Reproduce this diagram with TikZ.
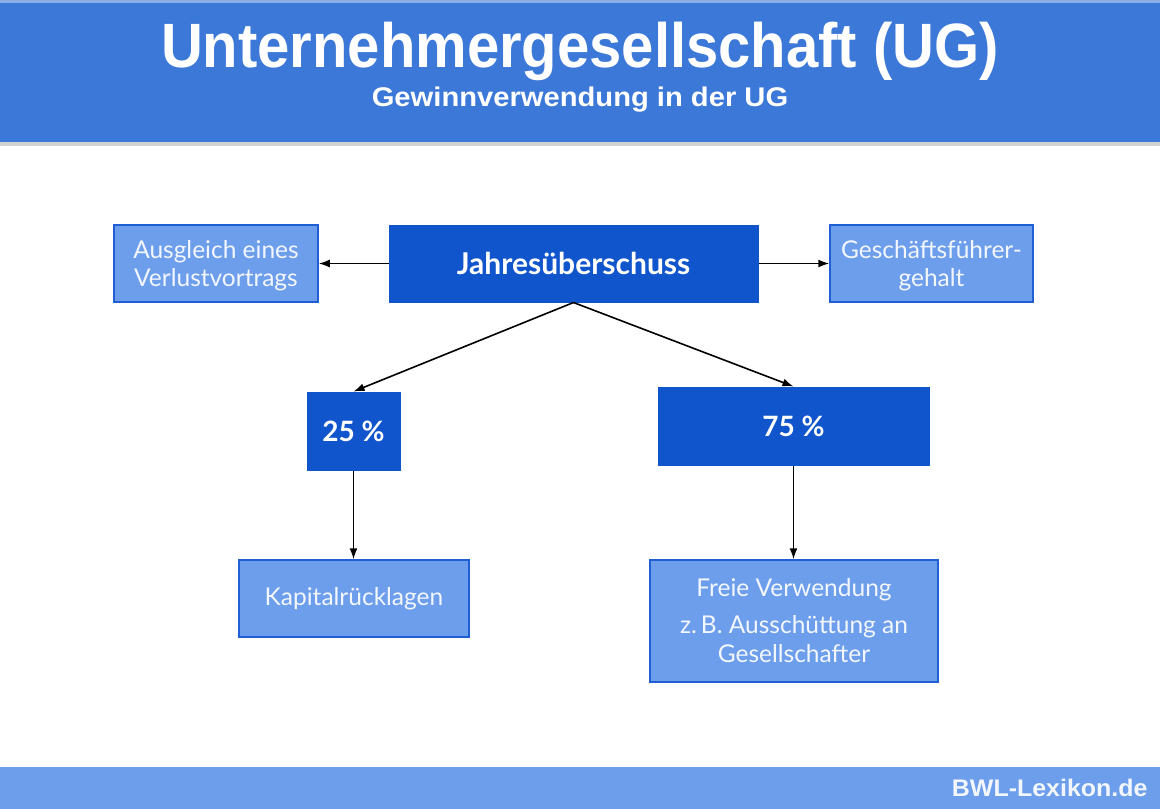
\documentclass[tikz,border=0pt]{standalone}
\usepackage{fontspec}
\setmainfont{Liberation Sans}
\newfontfamily\boxfont{Lato}
\usetikzlibrary{arrows.meta}
\definecolor{hdr}{HTML}{3C78D8}
\definecolor{ftr}{HTML}{6D9EEB}
\definecolor{dark}{HTML}{1155CC}
\definecolor{light}{HTML}{6D9EEB}
\definecolor{bord}{HTML}{1F5FD3}
\definecolor{ltext}{HTML}{F2F6FD}
\tikzset{
  lightbox/.style={draw=bord, line width=1.5pt, fill=light, inner sep=0pt, align=center,
    text=ltext, font=\boxfont\fontsize{24.5}{29}\selectfont},
  darkbox/.style={draw=dark, line width=1pt, fill=dark, inner sep=0pt, align=center,
    text=white, font=\boxfont\bfseries\fontsize{28}{30}\selectfont},
  conn/.style={line width=1.6pt, -{Latex[length=11pt,width=8pt]}}
}
\begin{document}
\begin{tikzpicture}[x=1pt,y=-1pt]
\useasboundingbox (0,0) rectangle (1160,809);
\fill[white] (0,0) rectangle (1160,809);
% header
\fill[black!18] (0,141) rectangle (1160,146);
\fill[hdr] (0,2) rectangle (1160,142);
\fill[hdr!60!white] (0,0) rectangle (1160,3);
\node[text=white, font=\bfseries\fontsize{58}{60}\selectfont] (title) at (580,51)
  {\scalebox{1.0}[1.08]{Unternehmergesellschaft (UG)}};
\node[text=white, font=\bfseries\fontsize{27}{28}\selectfont] (subtitle) at (580,100)
  {\scalebox{1.08}[1]{Gewinnverwendung in der UG}};
% footer
\fill[ftr] (0,767) rectangle (1160,809);
\node[anchor=east, text=ltext, font=\bfseries\fontsize{24}{26}\selectfont] (brand) at (1151,788)
  {\scalebox{1.04}[1]{BWL-Lexikon.de}};
% boxes
\node[lightbox, minimum width=204pt, minimum height=77pt] (aus) at (216,263.5)
  {\raisebox{-3pt}[\height][\depth]{\begin{tabular}{@{}c@{}}Ausgleich eines\\[-0.5pt]Verlustvortrags\end{tabular}}};
\node[darkbox, minimum width=369pt, minimum height=77pt, font=\boxfont\bfseries\fontsize{30}{32}\selectfont] (jahr) at (573.5,263.5)
  {Jahresüberschuss};
\node[lightbox, minimum width=203pt, minimum height=77pt] (gf) at (931.5,263.5)
  {\raisebox{-3pt}[\height][\depth]{\begin{tabular}{@{}c@{}}Geschäftsführer-\\[-0.5pt]gehalt\end{tabular}}};
\node[darkbox, minimum width=93pt, minimum height=78pt] (p25) at (353.5,431)
  {25 \%};
\node[darkbox, minimum width=271pt, minimum height=78pt] (p75) at (793.5,426)
  {75 \%};
\node[lightbox, minimum width=230pt, minimum height=77pt] (kap) at (354,598.5)
  {Kapitalrücklagen};
\node[lightbox, minimum width=288pt, minimum height=122pt] (frei) at (794,621)
  {Freie Verwendung\\[8pt]z.\,B. Ausschüttung an\\Gesellschafter};
% connectors
\draw[conn] (jahr.west) -- (aus.east);
\draw[conn] (jahr.east) -- (gf.west);
\draw[conn] (jahr.south) -- (p25.north);
\draw[conn] (jahr.south) -- (p75.north);
\draw[conn] (p25.south) -- (kap.north -| p25.south);
\draw[conn] (p75.south) -- (frei.north -| p75.south);
\end{tikzpicture}
\end{document}
